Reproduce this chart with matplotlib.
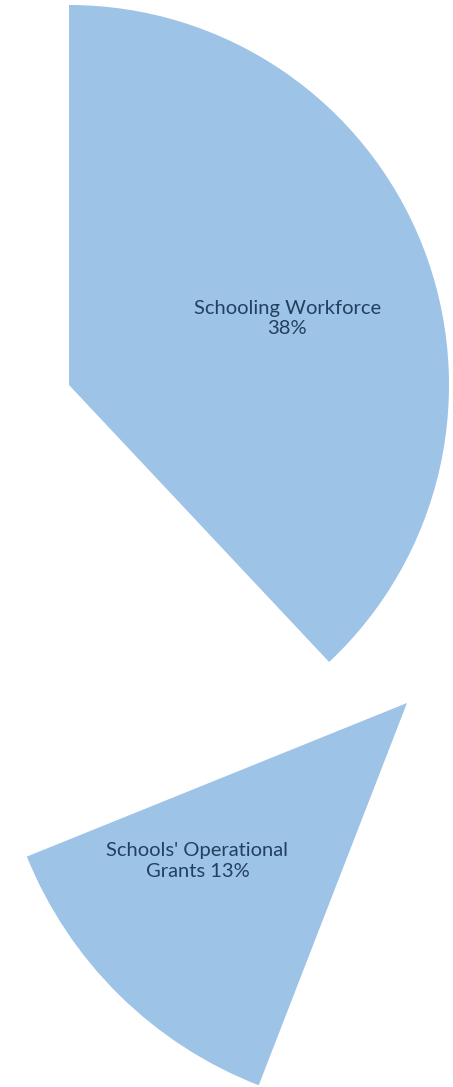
import matplotlib
matplotlib.use('Agg')
import matplotlib.pyplot as plt
import numpy as np

# budget shares (percent) for the two wedges shown
labels = ['Schooling Workforce', "Schools' Operational Grants"]
shares = [38, 13]
label_text = ['Schooling Workforce\n38%', "Schools' Operational\nGrants 13%"]

W, H = 453, 1087
blue = '#9DC3E6'
navy = '#22405F'


def put_label(center, radius, start, share, sign, frac, shift, text):
    # label sits inside the wedge, near its bisector
    mid = np.deg2rad(start + sign * share * 3.6 / 2 + shift)
    ax.text(center[0] + frac * radius * np.cos(mid),
            center[1] + frac * radius * np.sin(mid),
            text, ha='center', va='center', fontsize=14.5,
            family='Lato', color=navy, linespacing=1.25)


fig = plt.figure(figsize=(W / 100, H / 100), dpi=100)
ax = fig.add_axes([0, 0, 1, 1])

# wedge 1: starts at 12 o'clock, runs clockwise
c1, r1 = (69, H - 385), 380
ax.pie([shares[0], 100 - shares[0]], center=c1, radius=r1, startangle=90,
       counterclock=False, colors=[blue, 'none'], frame=True,
       wedgeprops=dict(linewidth=0))
put_label(c1, r1, 90, shares[0], -1, 0.6, -4.7, label_text[0])

# wedge 2: pulled out, counter-clockwise from lower left
c2, r2 = (407, H - 703), 410
ax.pie([shares[1], 100 - shares[1]], center=c2, radius=r2, startangle=202,
       counterclock=True, colors=[blue, 'none'], frame=True,
       wedgeprops=dict(linewidth=0))
put_label(c2, r2, 202, shares[1], 1, 0.64, -8.4, label_text[1])

ax.set_xlim(0, W)
ax.set_ylim(0, H)
ax.set_aspect('auto')
ax.axis('off')

fig.savefig('out.png', dpi=100, facecolor='white')
